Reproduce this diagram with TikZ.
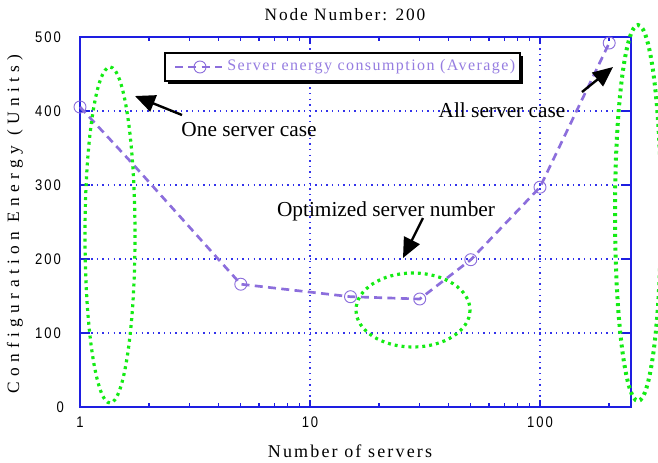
\documentclass[tikz,border=0pt]{standalone}
\usepackage{fontspec}
\setmainfont{Liberation Serif}
\newfontfamily\ticksfont{Liberation Sans}
\usetikzlibrary{arrows.meta}

\definecolor{axisblue}{RGB}{30,30,225}
\definecolor{gridblue}{RGB}{50,50,235}
\definecolor{seriespurple}{RGB}{140,110,220}
\definecolor{legendpurple}{RGB}{150,125,225}
\definecolor{markgreen}{RGB}{20,235,20}

% letter-spaced text: #1 = spacing in percent of the font size
\newcommand{\spacedtext}[2]{{\addfontfeature{LetterSpace=#1}#2}}

\begin{document}
\begin{tikzpicture}[x=0.75pt,y=-0.75pt,
  axisline/.style={draw=axisblue,line width=1.1pt},
  gridline/.style={draw=gridblue,line width=0.9pt,dash pattern=on 1pt off 3.2pt},
  series/.style={draw=seriespurple,line width=2pt,dash pattern=on 6pt off 4pt},
  datamark/.style={circle,draw=seriespurple,line width=0.7pt,minimum size=9pt,inner sep=0pt},
  highlight/.style={draw=markgreen,line width=2.4pt,dash pattern=on 2.2pt off 3pt},
  callout/.style={draw=black,line width=1.8pt,-{Triangle[length=15pt,width=13pt]}},
  note/.style={font=\fontsize{16}{18}\selectfont,inner sep=0pt},
  ticklabel/.style={font=\ticksfont\fontsize{11.5}{13}\selectfont,inner sep=0pt,xscale=0.85},
  axistitle/.style={font=\fontsize{13}{15}\selectfont,inner sep=0pt},
]
\useasboundingbox (0,0) rectangle (658,462);

% grid
\foreach \gy in {111,185,259,333}
  \draw[gridline] (80,\gy) -- (631,\gy);
\foreach \gx in {310,540}
  \draw[gridline] (\gx,37) -- (\gx,407);

% frame
\draw[axisline] (80,37) rectangle (631,407);

% x ticks (log scale, 230 px per decade)
\foreach \k in {2,...,9} {
  \draw[axisline] ({80+230*log10(\k)},407) -- ++(0,-4);
  \draw[axisline] ({310+230*log10(\k)},407) -- ++(0,-4);
  \draw[axisline] ({80+230*log10(\k)},37) -- ++(0,4);
  \draw[axisline] ({310+230*log10(\k)},37) -- ++(0,4);
}
\draw[axisline] ({540+230*log10(2)},407) -- ++(0,-4);
\draw[axisline] ({540+230*log10(2)},37) -- ++(0,4);
\foreach \gx in {310,540} {
  \draw[axisline] (\gx,407) -- ++(0,-7);
  \draw[axisline] (\gx,37) -- ++(0,7);
}
% y ticks
\foreach \gy in {111,185,259,333} {
  \draw[axisline] (80,\gy) -- ++(10,0);
  \draw[axisline] (631,\gy) -- ++(-10,0);
}

% tick labels
\node[ticklabel,anchor=east] (y500) at (61,37) {\spacedtext{15}{500}};
\node[ticklabel,anchor=east] (y400) at (61,111) {\spacedtext{15}{400}};
\node[ticklabel,anchor=east] (y300) at (61,185) {\spacedtext{15}{300}};
\node[ticklabel,anchor=east] (y200) at (61,259) {\spacedtext{15}{200}};
\node[ticklabel,anchor=east] (y100) at (61,333) {\spacedtext{15}{100}};
\node[ticklabel,anchor=east] (y0) at (64,407) {0};
\node[ticklabel] (x1) at (80,422) {1};
\node[ticklabel] (x10) at (310,422) {\spacedtext{15}{10}};
\node[ticklabel] (x100) at (540,422) {\spacedtext{15}{100}};

% titles
\node[axistitle] (title) at (345,15) {\spacedtext{11}{Node Number: 200}};
\node[axistitle,font=\fontsize{13.5}{15}\selectfont] (xtitle) at (350,451) {\spacedtext{12}{Number of servers}};
\node[axistitle,rotate=90] (ytitle) at (15,224) {\spacedtext{31}{Configuration Energy (Units)}};

% data series
\node[datamark] (m1) at (80,107) {};
\coordinate (bend) at (131,162);
\node[datamark] (m5) at (240.8,284.2) {};
\node[datamark] (m15) at (350.5,296.7) {};
\node[datamark] (m30) at (419.7,299) {};
\node[datamark] (m50) at (470.8,259.7) {};
\node[datamark] (m100) at (540,187.2) {};
\node[datamark] (m200) at (609.2,43) {};
\draw[series] (m1.center) -- (bend) -- (m5.center) -- (m15.center) -- (m30.center)
  -- (m50.center) -- (m100.center) -- (m200.center);

% legend
\fill[black] (168,56) rectangle (523,84);
\draw[black,line width=1.8pt,fill=white] (165,53) rectangle (520,81);
\node[datamark] (legmark) at (200,67) {};
\coordinate (legA) at (175,67);
\coordinate (legB) at (222,67);
\draw[series,line width=1.5pt] (legA) -- (legB);
\node[anchor=west,inner sep=0pt,text=legendpurple,font=\fontsize{12}{14}\selectfont] (legtext) at (227,67)
  {\spacedtext{9}{Server energy consumption (Average)}};

% highlighted regions
\draw[highlight] (110,235) ellipse [x radius=25, y radius=168];
\draw[highlight] (413,310) ellipse [x radius=57, y radius=37];
\draw[highlight,line width=3pt] (638,213) ellipse [x radius=23, y radius=188];

% callouts
\node[note] (onecase) at (249,130) {One server case};
\node[note] (allcase) at (502,110) {All server case};
\node[note] (optcase) at (386,211) {Optimized server number};
\coordinate (oneTail) at (182,115);
\coordinate (oneTip) at (135,96);
\coordinate (allTail) at (582,92);
\coordinate (allTip) at (613,67);
\coordinate (optTail) at (423,218);
\coordinate (optTip) at (403,258);
\draw[callout] (oneTail) -- (oneTip);
\draw[callout] (allTail) -- (allTip);
\draw[callout] (optTail) -- (optTip);
\end{tikzpicture}
\end{document}
